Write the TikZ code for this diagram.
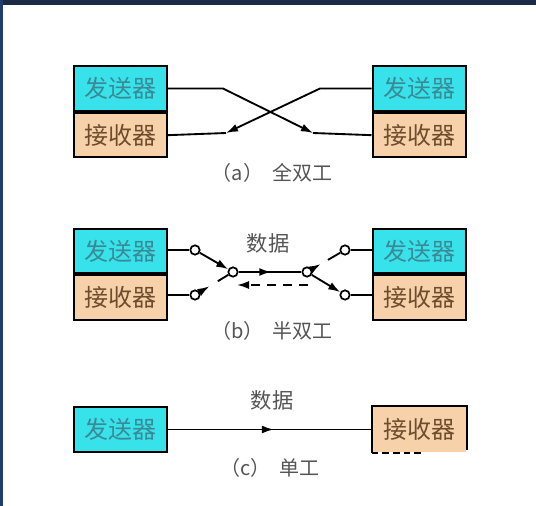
\documentclass[tikz,border=0pt]{standalone}
\definecolor{sendfill}{HTML}{38E2EA}
\definecolor{recvfill}{HTML}{F7D1AA}
\definecolor{sendtext}{HTML}{3A8A96}
\definecolor{recvtext}{HTML}{6E4C2C}
\definecolor{captext}{HTML}{555555}
\definecolor{topbar}{HTML}{1B2A45}
\definecolor{sidebar}{HTML}{1F3D6E}
\usepackage{fontspec}
\newfontfamily\cjk{Noto Sans CJK SC}
\usepackage{tikz}
\usetikzlibrary{positioning,arrows.meta,calc,decorations.markings}

\begin{document}
\begin{tikzpicture}[
    x=0.75pt, y=-0.75pt,
    node distance=0pt,
    box/.style={rectangle, draw=black, line width=1.5pt, minimum width=69.75pt,
                minimum height=33.5pt, inner sep=0pt, font=\cjk\fontsize{18}{20}\selectfont},
    sendbox/.style={box, fill=sendfill, text=sendtext},
    recvbox/.style={box, fill=recvfill, text=recvtext},
    wire/.style={line width=1.4pt},
    arr/.style={wire, -{Latex[length=9pt,width=6pt]}},
    midarr/.style={wire, postaction={decorate}, decoration={markings,
                   mark=at position 0.52 with {\arrow{Latex[length=9pt,width=6pt]}}}},
    contact/.style={circle, draw=black, line width=1.3pt, fill=white,
                    inner sep=0pt, minimum size=7pt},
    lbl/.style={font=\cjk\fontsize{16}{18}\selectfont, text=captext},
    captxt/.style={font=\cjk\fontsize{15}{17}\selectfont, text=captext}
  ]
    % frame
    \useasboundingbox (0,0) rectangle (536,506);
    \fill[white] (0,0) rectangle (536,506);
    \fill[topbar] (0,0) rectangle (536,5);
    \fill[sidebar] (0,0) rectangle (3,506);

    % (a) full duplex
    \node[sendbox] (aLS) at (120.5,88.5) {发送器};
    \node[recvbox, below=of aLS] (aLR) {接收器};
    \node[sendbox] (aRS) at (419,88.5) {发送器};
    \node[recvbox, below=of aRS] (aRR) {接收器};

    \coordinate (aK1) at (223,88.5);
    \coordinate (aK2) at (313,133);
    \coordinate (aK3) at (320,88.5);
    \coordinate (aK4) at (226,133);
    \draw[arr] (aLS.east) -- (aK1) -- (aK2);
    \draw[wire] (aK2) -- (aRR.west);
    \draw[arr] (aRS.west) -- (aK3) -- (aK4);
    \draw[wire] (aK4) -- (aLR.east);
    \node[captxt] (capA) at (272,173) {（a）\ \ 全双工};

    % (b) half duplex
    \node[sendbox] (bLS) at (120.5,251) {发送器};
    \node[recvbox, below=of bLS] (bLR) {接收器};
    \node[sendbox] (bRS) at (419,251) {发送器};
    \node[recvbox, below=of bRS] (bRR) {接收器};

    \node[contact] (bL1) at (195,250) {};
    \node[contact] (bL2) at (195,295) {};
    \node[contact] (bLc) at (233,272) {};
    \node[contact] (bRc) at (307,272) {};
    \node[contact] (bR1) at (345,250) {};
    \node[contact] (bR2) at (345,295) {};

    \draw[wire] (bLS.east |- bL1) -- (bL1);
    \draw[wire] (bLR.east |- bL2) -- (bL2);
    \draw[wire] (bRS.west |- bR1) -- (bR1);
    \draw[wire] (bRR.west |- bR2) -- (bR2);
    \draw[arr] (bL1) -- (bLc);
    \draw[midarr] (bLc) -- (bRc);
    \draw[arr] (bRc) -- (bR2);
    \draw[wire] (bLc) -- ($(bLc)!0.4!(bL2)$);
    \draw[arr] (bL2) -- ($(bL2)!0.38!(bLc)$);
    \draw[arr] (bRc) -- ($(bRc)!0.36!(bR1)$);
    \draw[wire] (bR1) -- ($(bR1)!0.45!(bRc)$);
    \draw[arr, dash pattern=on 7pt off 5pt] ($(bRc)+(1,13)$) -- ($(bLc)+(4,13)$);
    \node[lbl] (bData) at (268,243) {数据};
    \node[captxt] (capB) at (272,331) {（b）\ \ 半双工};

    % (c) simplex
    \node[sendbox] (cLS) at (120.5,429.5) {发送器};
    \node[recvbox, draw=none] (cRR) at (419,429.5) {接收器};
    \draw[line width=1.5pt] (cRR.south west) -- (cRR.north west)
        -- (cRR.north east) -- ([yshift=2pt]cRR.south east);
    \draw[line width=1.5pt, dash pattern=on 5pt off 3pt] (cRR.south west) -- ++(51,0);
    \draw[midarr] (cLS.east) -- (cRR.west);
    \node[lbl] (cData) at (272,400) {数据};
    \node[captxt] (capC) at (270,468) {（c）\ \ 单工};
  \end{tikzpicture}
\end{document}
